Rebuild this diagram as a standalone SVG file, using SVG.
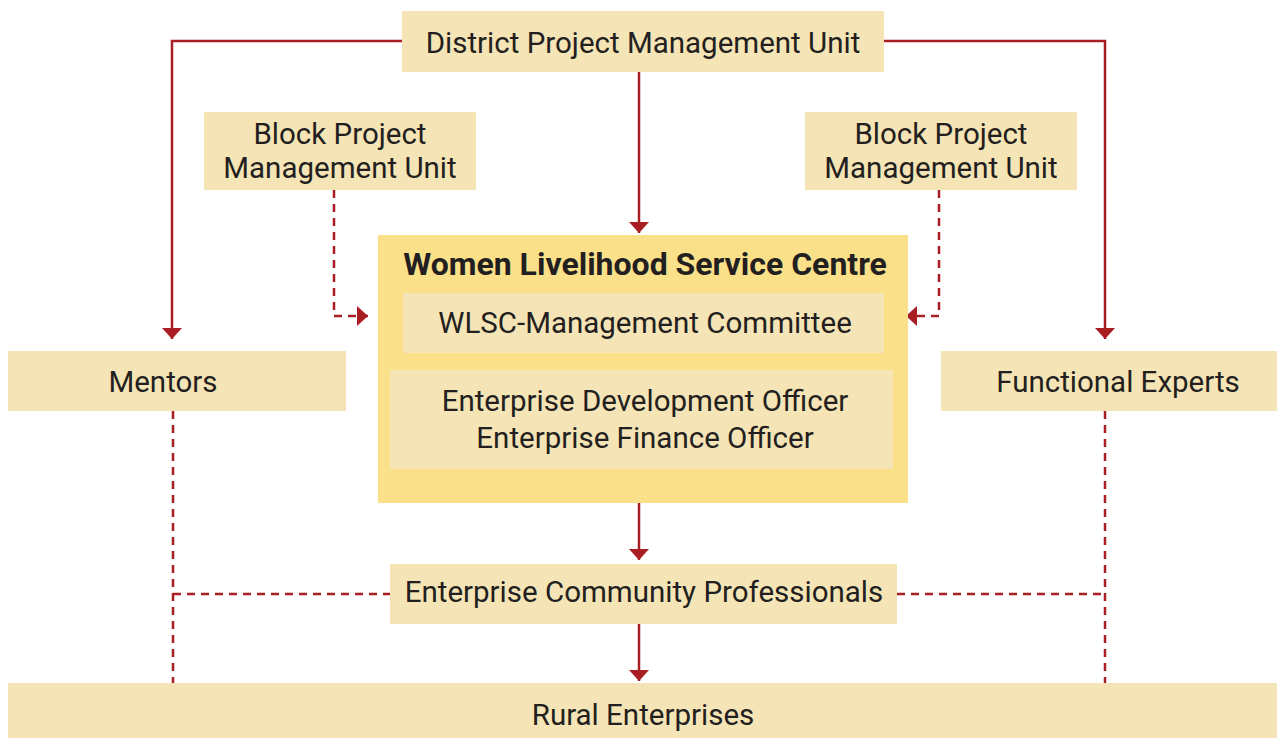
<svg xmlns="http://www.w3.org/2000/svg" width="1277" height="738" viewBox="0 0 1277 738">
<style>
.box{fill:#F5E4B5}
.outer{fill:#FBE08A}
.t{font-family:Roboto,"Liberation Sans",sans-serif;font-size:29.5px;fill:#231F20;text-anchor:middle}
.b{font-weight:bold;font-size:32px}
.ln{stroke:#A91E22;stroke-width:2.5;fill:none}
.d{stroke-dasharray:8 6}
</style>
<defs>
<marker id="ah" viewBox="0 0 11 20" refX="11" refY="10" markerWidth="4.4" markerHeight="8" markerUnits="strokeWidth" orient="auto">
<path d="M0,0 L11,10 L0,20 Z" fill="#A91E22"/>
</marker>
</defs>
<rect width="1277" height="738" fill="#fff"/>
<g id="connectors">
<path class="ln" d="M402,41 H172 V339" marker-end="url(#ah)"/>
<path class="ln" d="M884,41 H1105 V339" marker-end="url(#ah)"/>
<path class="ln" d="M639,72 V233" marker-end="url(#ah)"/>
<path class="ln d" d="M334,190 V316 H368" marker-end="url(#ah)"/>
<path class="ln d" d="M939,190 V316 H906" marker-end="url(#ah)"/>
<path class="ln" d="M639,503 V560" marker-end="url(#ah)"/>
<path class="ln" d="M639,624 V681" marker-end="url(#ah)"/>
<path class="ln d" d="M173,411 V683"/>
<path class="ln d" d="M1105,411 V683"/>
<path class="ln d" d="M173,594 H390"/>
<path class="ln d" d="M897,594 H1105"/>
</g>
<g id="dpmu"><rect class="box" x="402" y="11" width="482" height="61"/><text class="t" x="643" y="53">District Project Management Unit</text></g>
<g id="bpmu-left"><rect class="box" x="204" y="112" width="272" height="78"/><text class="t" x="340" y="144">Block Project</text><text class="t" x="340" y="178">Management Unit</text></g>
<g id="bpmu-right"><rect class="box" x="805" y="112" width="272" height="78"/><text class="t" x="941" y="144">Block Project</text><text class="t" x="941" y="178">Management Unit</text></g>
<g id="wlsc">
<rect class="outer" x="378" y="235" width="530" height="268"/>
<text class="t b" x="645" y="275">Women Livelihood Service Centre</text>
<rect class="box" x="403" y="293" width="481" height="60"/>
<text class="t" x="645" y="333">WLSC-Management Committee</text>
<rect class="box" x="390" y="370" width="503" height="99"/>
<text class="t" x="645" y="411">Enterprise Development Officer</text>
<text class="t" x="645" y="448">Enterprise Finance Officer</text>
</g>
<g id="mentors"><rect class="box" x="8" y="351" width="338" height="60"/><text class="t" x="163" y="392">Mentors</text></g>
<g id="functional-experts"><rect class="box" x="941" y="351" width="336" height="60"/><text class="t" x="1118" y="392">Functional Experts</text></g>
<g id="ecp"><rect class="box" x="390" y="564" width="507" height="60"/><text class="t" x="644" y="602">Enterprise Community Professionals</text></g>
<g id="rural"><rect class="box" x="8" y="683" width="1269" height="55"/><text class="t" x="643" y="725">Rural Enterprises</text></g>
</svg>
